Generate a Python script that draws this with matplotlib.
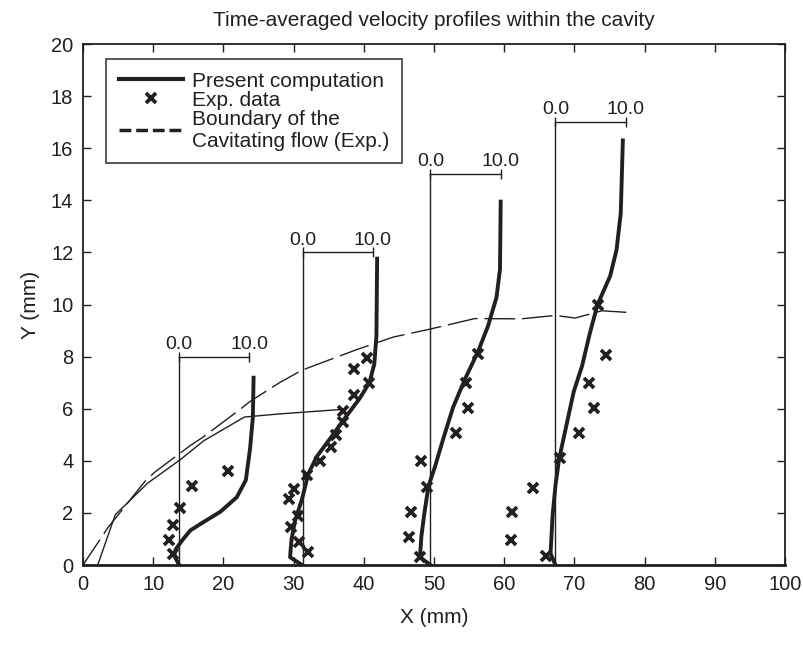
import matplotlib
matplotlib.use("Agg")
import matplotlib.pyplot as plt
from matplotlib.lines import Line2D

plt.rcParams['font.family'] = ['Liberation Sans', 'DejaVu Sans']

# measuring stations (x of the 0.0 reference) and height of each scale bar
stations = [13.7, 31.3, 49.5, 67.3]
bar_heights = [8, 12, 15, 17]

# present computation, one profile per station (x, y in mm)
comp_x1 = [13.7, 13.0, 13.2, 14.2, 15.3, 16.7, 19.6, 21.9, 23.2, 23.8, 24.2, 24.3]
comp_y1 = [0.0, 0.36, 0.6, 0.97, 1.33, 1.57, 2.05, 2.6, 3.26, 4.47, 5.68, 7.19]
comp_x2 = [31.2, 29.5, 29.7, 30.2, 31.2, 32.1, 33.3, 35.3, 37.4, 39.4, 40.8, 41.5, 41.8, 41.9]
comp_y2 = [0.0, 0.3, 0.97, 1.69, 2.53, 3.5, 4.16, 4.89, 5.67, 6.39, 7.0, 7.72, 8.8, 11.76]
comp_x3 = [49.5, 48.0, 48.2, 48.6, 49.2, 50.1, 51.3, 52.7, 54.4, 56.3, 57.7, 58.9, 59.4, 59.5]
comp_y3 = [0.0, 0.3, 1.09, 1.93, 3.02, 3.74, 4.83, 6.04, 7.13, 8.21, 9.18, 10.27, 11.35, 13.95]
comp_x4 = [67.3, 66.6, 66.9, 67.3, 67.8, 68.6, 69.9, 71.1, 72.2, 73.3, 75.1, 76.0, 76.6, 76.9]
comp_y4 = [0.0, 0.44, 1.93, 3.05, 4.04, 5.04, 6.65, 7.65, 8.9, 10.0, 11.1, 12.1, 13.5, 16.3]

# experimental data
exp_x = [20.7, 15.5, 13.8, 12.8, 12.2, 12.8,
         40.4, 38.6, 40.8, 38.6, 37.0, 37.0, 36.0, 35.4, 33.8, 31.9, 30.0, 29.3,
         30.6, 29.6, 30.8, 32.0,
         56.3, 54.6, 54.9, 53.1, 48.2, 49.0, 46.7, 46.4, 48.0,
         61.0, 61.1, 64.1,
         73.3, 74.5, 72.1, 72.8, 70.7, 67.9, 65.9]
exp_y = [3.59, 3.02, 2.18, 1.55, 0.97, 0.42,
         7.94, 7.54, 7.0, 6.51, 5.93, 5.49, 5.0, 4.52, 3.98, 3.44, 2.9, 2.53,
         1.87, 1.45, 0.9, 0.48,
         8.09, 7.0, 6.04, 5.07, 4.01, 3.0, 2.05, 1.09, 0.3,
         0.95, 2.05, 2.96,
         10.0, 8.05, 6.99, 6.03, 5.06, 4.1, 0.34]

# boundary of the cavitating flow (exp.)
bound_x = [0.0, 3.6, 8.8, 10.2, 15.3, 17.0, 22.4, 23.8, 28.0, 31.2, 38.9, 44.2, 49.5,
           55.8, 62.4, 67.3, 70.1, 73.9, 77.4]
bound_y = [0.0, 1.45, 3.2, 3.56, 4.59, 4.89, 5.98, 6.28, 7.0, 7.48, 8.26, 8.75, 9.06,
           9.46, 9.45, 9.58, 9.48, 9.76, 9.7]

# computed cavity boundary (thin solid)
cav_x = [2.1, 4.6, 9.2, 13.9, 17.2, 23.0, 28.0, 36.7]
cav_y = [0.0, 1.93, 3.14, 4.05, 4.77, 5.68, 5.8, 5.97]

ink = '#231f20'

fig = plt.figure(figsize=(8.04, 6.55), dpi=100)
ax = fig.add_axes([0.1032, 0.1374, 0.8732, 0.7954])

for x0, h in zip(stations, bar_heights):
    ax.plot([x0, x0], [0, h], color=ink, lw=1.0)
    ax.plot([x0, x0 + 10], [h, h], color=ink, lw=1.0)
    ax.plot([x0, x0 + 10], [h, h], ls='none', marker='|', ms=7, mew=1.0, color=ink)
    ax.text(x0, h + 0.3, '0.0', ha='center', va='baseline', fontsize=14, color=ink)
    ax.text(x0 + 10, h + 0.3, '10.0', ha='center', va='baseline', fontsize=14, color=ink)

ax.plot(cav_x, cav_y, color=ink, lw=1.0)
ax.plot(bound_x, bound_y, color=ink, lw=1.0, dashes=(22, 5))

for cx, cy in [(comp_x1, comp_y1), (comp_x2, comp_y2), (comp_x3, comp_y3), (comp_x4, comp_y4)]:
    ax.plot(cx, cy, color=ink, lw=2.8, solid_joinstyle='round')

ax.plot(exp_x, exp_y, ls='none', marker='x', ms=7.5, mew=2.7, color=ink)

ax.set_xlim(0, 100)
ax.set_ylim(0, 20)
ax.set_xticks(range(0, 101, 10))
ax.set_yticks(range(0, 21, 2))
ax.tick_params(direction='in', top=True, right=True, length=6, width=1.0,
               labelsize=14.5, colors=ink, pad=7)
for s in ax.spines.values():
    s.set_linewidth(1.3)
    s.set_color(ink)
ax.spines['bottom'].set_linewidth(2.0)
ax.set_xlabel('X (mm)', fontsize=15, color=ink, labelpad=10)
ax.set_ylabel('Y (mm)', fontsize=15, color=ink, labelpad=8)
ax.set_title('Time-averaged velocity profiles within the cavity', fontsize=15,
             color=ink, pad=13)

handles = [Line2D([], [], color=ink, lw=3),
           Line2D([], [], ls='none', marker='x', ms=7.5, mew=2.7, color=ink),
           Line2D([], [], color=ink, lw=2.5, dashes=(3.4, 1.4))]
labels = ['Present computation', 'Exp. data', 'Boundary of the\nCavitating flow (Exp.)']
leg = ax.legend(handles, labels, loc='upper left', bbox_to_anchor=(0.033, 0.971),
                borderaxespad=0, fontsize=15, frameon=True, fancybox=False,
                handlelength=3.1, labelspacing=0.0, borderpad=0.6, handletextpad=0.43)
leg.get_frame().set_edgecolor(ink)
leg.get_frame().set_linewidth(1.3)
for t in leg.get_texts():
    t.set_color(ink)

fig.savefig('out.png', dpi=100)
